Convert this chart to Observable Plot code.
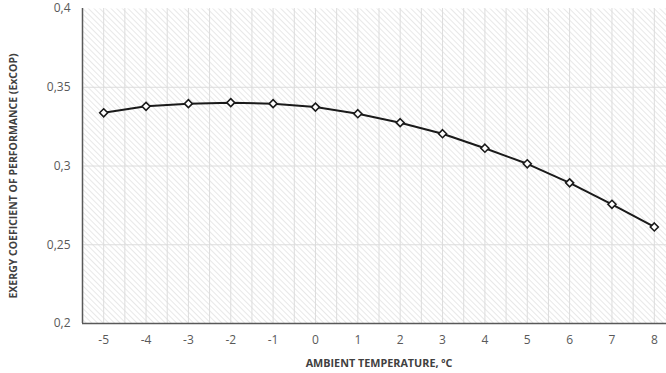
<!DOCTYPE html>
<html>
<head>
<meta charset="utf-8">
<script src="https://cdn.jsdelivr.net/npm/d3@7"></script>
<script src="https://cdn.jsdelivr.net/npm/@observablehq/plot@0.6"></script>
<style>
html, body { margin: 0; padding: 0; background: #fff; overflow: hidden; }
#chart svg { display: block; }
</style>
</head>
<body>
<div id="chart"></div>
<script>
const temperatures = [-5, -4, -3, -2, -1, 0, 1, 2, 3, 4, 5, 6, 7, 8];
const excop = [0.3338, 0.3379, 0.3396, 0.3402, 0.3396, 0.3374, 0.3332, 0.3275, 0.3205, 0.3113, 0.3014, 0.2893, 0.2757, 0.2613];
const yTicks = [0.2, 0.25, 0.3, 0.35, 0.4];
const yTickLabels = ["0,2", "0,25", "0,3", "0,35", "0,4"];
const hGrid = [0.25, 0.3, 0.35];
const vGrid = d3.range(-5.5, 8.51, 0.5);
const xTitle = "AMBIENT TEMPERATURE, ºC";
const yTitle = "EXERGY COEFICIENT OF PERFORMANCE (ExCOP)";

const data = temperatures.map((t, i) => ({t, v: excop[i]}));
const font = "'Open Sans', sans-serif";

const plot = Plot.plot({
  width: 666,
  height: 373,
  marginLeft: 82,
  marginRight: -9,
  marginTop: 8,
  marginBottom: 50,
  style: {fontFamily: font, background: "transparent", overflow: "visible"},
  x: {domain: [-5.5, 8.5], axis: null},
  y: {domain: [0.2, 0.4], axis: null},
  marks: [
    Plot.frame({fill: "url(#hatch)", stroke: "none"}),
    Plot.ruleX(vGrid, {stroke: "#dcdcdc", strokeWidth: 1}),
    Plot.ruleY(hGrid, {stroke: "#dcdcdc", strokeWidth: 1}),
    Plot.ruleY([0.2], {stroke: "#595959", strokeWidth: 1.5}),
    Plot.ruleX([-5.5], {stroke: "#595959", strokeWidth: 1.5}),
    Plot.line(data, {x: "t", y: "v", stroke: "#1a1a1a", strokeWidth: 2}),
    Plot.dot(data, {x: "t", y: "v", symbol: "diamond2", r: 3.6, fill: "white", stroke: "#1a1a1a", strokeWidth: 1.6}),
    Plot.axisY(yTicks, {anchor: "left", tickSize: 0, tickPadding: 12, tickFormat: (d, i) => yTickLabels[i], fontSize: 12, fill: "#595959", label: null}),
    Plot.axisX(temperatures, {anchor: "bottom", tickSize: 0, tickPadding: 12, fontSize: 12, fill: "#595959", label: null, tickFormat: d => d < 0 ? "-" + Math.abs(d) : String(d)}),
    Plot.text([xTitle], {frameAnchor: "bottom", x: () => 1.5, dy: 43, text: d => d, fontWeight: "bold", fontSize: 10.8, fill: "#404040"}),
  ]
});

// Pattern definition for hatched background
const svg = d3.select(plot);
const defs = svg.insert("defs", ":first-child");
const pat = defs.append("pattern")
  .attr("id", "hatch")
  .attr("patternUnits", "userSpaceOnUse")
  .attr("width", 4).attr("height", 4)
  .attr("patternTransform", "rotate(-45)");
pat.append("rect").attr("width", 4).attr("height", 4).attr("fill", "#ffffff");
pat.append("line").attr("x1", 0).attr("y1", 0).attr("x2", 0).attr("y2", 4)
  .attr("stroke", "#e3e3e3").attr("stroke-width", 1.6);

// Y axis title
svg.append("text")
  .attr("transform", "translate(17,176) rotate(-90)")
  .attr("text-anchor", "middle")
  .attr("font-family", font)
  .attr("font-weight", "bold")
  .attr("font-size", 10.5)
  .attr("fill", "#404040")
  .text(yTitle);

document.getElementById("chart").appendChild(plot);
</script>
</body>
</html>
